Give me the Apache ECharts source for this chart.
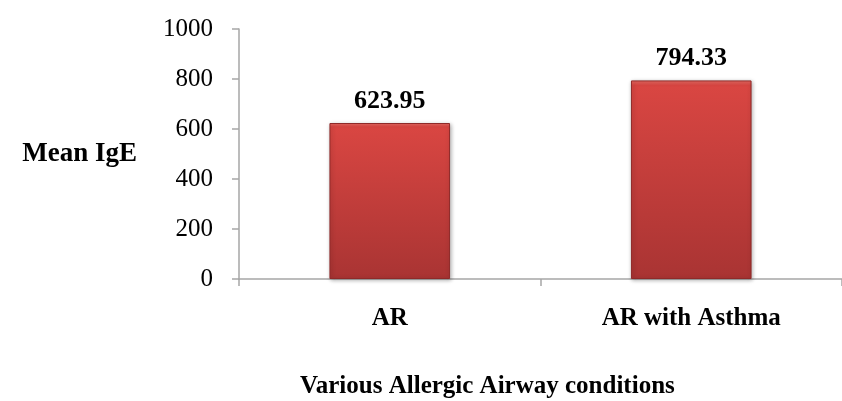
<!DOCTYPE html>
<html>
<head>
<meta charset="utf-8">
<script src="https://cdn.jsdelivr.net/npm/echarts@6/dist/echarts.min.js"></script>
<style>
  html, body { margin: 0; padding: 0; background: #fff; }
  #chart { width: 842px; height: 401px; }
</style>
</head>
<body>
<div id="chart"></div>
<script>
  const categories = ['AR', 'AR with Asthma']
  const meanIgE = [623.95, 794.33]
  const yTicks = [0, 200, 400, 600, 800, 1000]

  const serif = '"Liberation Serif", "Times New Roman", serif'
  const axisGray = '#a6a6a6'

  const myChart = echarts.init(document.getElementById('chart'))
  const option = {
    animation: false,
    title: {
      text: 'Various Allergic Airway conditions',
      left: 300,
      top: 374,
      padding: 0,
      textStyle: { fontFamily: serif, fontSize: 25, fontWeight: 'bold', color: '#000' },
    },
    grid: { left: 239, right: -13, top: 29, bottom: 122 },
    xAxis: {
      type: 'category',
      data: categories,
      axisLine: { lineStyle: { color: axisGray, width: 1.5 } },
      axisTick: { show: true, length: 7, lineStyle: { color: axisGray, width: 1.5 } },
      axisLabel: {
        margin: 27,
        fontFamily: serif,
        fontSize: 25,
        fontWeight: 'bold',
        color: '#000',
      },
    },
    yAxis: {
      type: 'value',
      min: yTicks[0],
      max: yTicks[yTicks.length - 1],
      interval: 200,
      name: 'Mean IgE',
      nameLocation: 'middle',
      nameRotate: 0,
      nameGap: 102,
      nameTextStyle: {
        fontFamily: serif,
        fontSize: 27,
        fontWeight: 'bold',
        color: '#000',
        align: 'right',
        verticalAlign: 'middle',
      },
      axisLine: { show: true, lineStyle: { color: axisGray, width: 1.5 } },
      axisTick: { show: true, length: 7, lineStyle: { color: axisGray, width: 1.5 } },
      splitLine: { show: false },
      axisLabel: {
        margin: 26,
        fontFamily: serif,
        fontSize: 25,
        color: '#000',
        formatter: (v) => String(v),
      },
    },
    series: [
      {
        type: 'bar',
        data: meanIgE,
        barWidth: '40%',
        itemStyle: {
          color: new echarts.graphic.LinearGradient(0, 0, 0, 1, [
            { offset: 0, color: '#ea6a63' },
            { offset: 0.025, color: '#d94642' },
            { offset: 1, color: '#a93433' },
          ]),
          borderColor: '#8f2a29',
          borderWidth: 1,
          shadowColor: 'rgba(0,0,0,0.3)',
          shadowBlur: 4,
          shadowOffsetX: 1,
          shadowOffsetY: 1,
        },
        label: {
          show: true,
          position: 'top',
          distance: 9,
          formatter: (p) => p.value.toFixed(2),
          fontFamily: serif,
          fontSize: 26,
          fontWeight: 'bold',
          color: '#000',
        },
      },
    ],
  }
  myChart.setOption(option)
</script>
</body>
</html>
